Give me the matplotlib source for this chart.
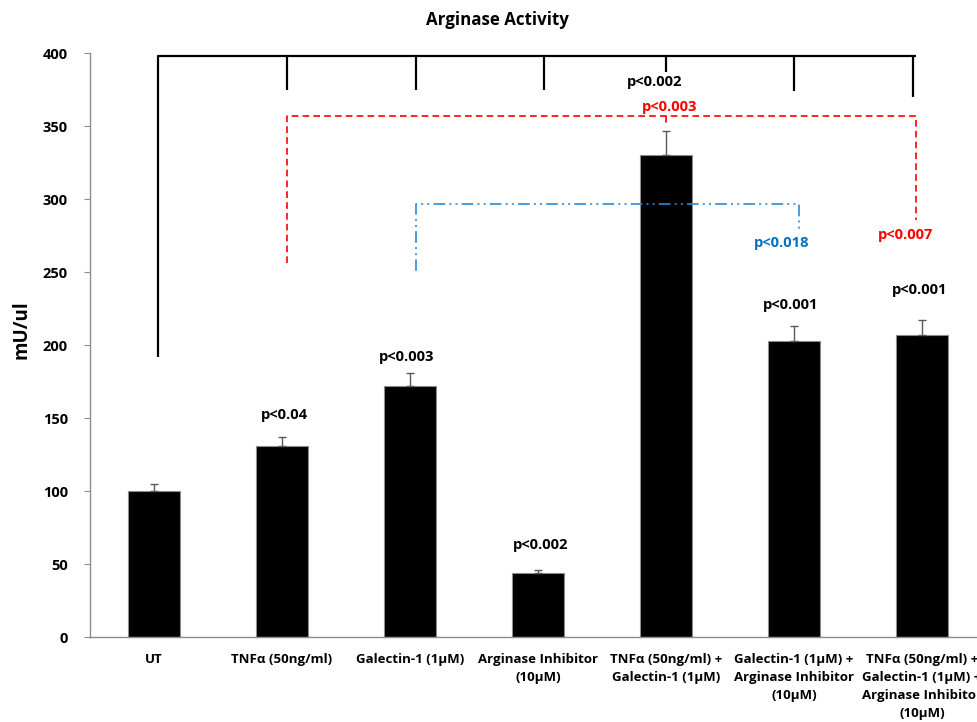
import matplotlib
matplotlib.use("Agg")
import matplotlib.pyplot as plt

plt.rcParams['font.family'] = ['Open Sans', 'DejaVu Sans']
plt.rcParams['font.weight'] = 'bold'

# treatment groups and measured arginase activity (mU/ul), mean + SEM
groups = ['UT', 'TNFα (50ng/ml)', 'Galectin-1 (1μM)', 'Arginase Inhibitor\n(10μM)',
          'TNFα (50ng/ml) +\nGalectin-1 (1μM)',
          'Galectin-1 (1μM) +\nArginase Inhibitor\n(10μM)',
          'TNFα (50ng/ml) +\nGalectin-1 (1μM) +\nArginase Inhibitor\n(10μM)']
activity = [100, 131, 172, 44, 330, 203, 207]
sem = [5, 6.5, 9, 2, 17, 10.5, 10.5]

# p-values vs untreated, written above each bar
p_labels = ['', 'p<0.04', 'p<0.003', 'p<0.002', 'p<0.002', 'p<0.001', 'p<0.001']
p_label_x = [0, 1.02, 1.97, 3.02, 3.91, 4.97, 5.98]
p_label_y = [0, 152, 192, 63, 380.5, 227.5, 238]

GRAY = '#8c8c8c'
RED = '#ff0000'
BLUE_LINE = '#2b8ad6'
BLUE_TEXT = '#0070c0'
PFONT = 10.6

fig = plt.figure(figsize=(9.77, 7.22), dpi=100)
ax = fig.add_axes([90 / 977, 0.1173, 896 / 977, 0.8089])

x = list(range(len(groups)))
ax.bar(x, activity, width=0.4, color='black', edgecolor=GRAY, linewidth=0.8, zorder=2)
ax.errorbar(x, activity, yerr=[[0] * len(sem), sem], fmt='none',
            ecolor='#595959', elinewidth=1, capsize=3, capthick=1, zorder=3)

for xi, yi, lab in zip(p_label_x, p_label_y, p_labels):
    if lab:
        ax.text(xi, yi, lab, ha='center', va='center', fontsize=PFONT, color='black')

# black bracket: untreated vs every treatment
ax.plot([0.03, 0.03, 5.95], [192, 398, 398], color='black', lw=1.6,
        solid_capstyle='butt', zorder=4)
for tx, ty in zip([1.04, 2.05, 3.05, 4.0, 5.0, 5.93], [375, 375, 375, 387, 374, 370]):
    ax.plot([tx, tx], [398, ty], color='black', lw=1.6, solid_capstyle='butt', zorder=4)

# red dashed bracket: TNFa vs combinations
ax.plot([1.04, 1.04, 5.95, 5.95], [256.5, 357, 357, 285.8], color=RED, lw=1.2,
        dashes=(4, 2.5), zorder=4)
ax.plot([4.0, 4.0], [357, 350], color=RED, lw=1.2, dashes=(4, 2.5), zorder=4)
ax.text(4.03, 363.4, 'p<0.003', ha='center', va='center', fontsize=PFONT, color=RED)
ax.text(5.87, 275.5, 'p<0.007', ha='center', va='center', fontsize=PFONT, color=RED)

# blue dash-dot-dot bracket: Galectin-1 vs Galectin-1 + inhibitor
ax.plot([2.05, 2.05, 5.04, 5.04], [251, 297, 297, 279.5], color=BLUE_LINE, lw=1.2,
        dashes=(7, 2.5, 1.2, 2.5, 1.2, 2.5), zorder=4)
ax.text(4.9, 270, 'p<0.018', ha='center', va='center', fontsize=PFONT, color=BLUE_TEXT)

ax.set_xlim(-0.5, 6.5)
ax.set_ylim(0, 400)
ax.set_yticks(range(0, 401, 50))
ax.set_xticks(x)
ax.set_xticklabels(groups, fontsize=9.5, linespacing=1.52)
ax.tick_params(axis='x', length=0, pad=11)
ax.tick_params(axis='y', length=4, color=GRAY, labelsize=10.5, pad=12)

for side in ['top', 'right']:
    ax.spines[side].set_visible(False)
for side in ['left', 'bottom']:
    ax.spines[side].set_color(GRAY)
    ax.spines[side].set_linewidth(1)

fig.text(497.5 / 977, 1 - 20 / 722, 'Arginase Activity', ha='center', va='center', fontsize=12.2)
fig.text(21.7 / 977, 1 - 330 / 722, 'mU/ul', ha='center', va='center', rotation=90, fontsize=13.5)

fig.savefig('out.png', dpi=100)
